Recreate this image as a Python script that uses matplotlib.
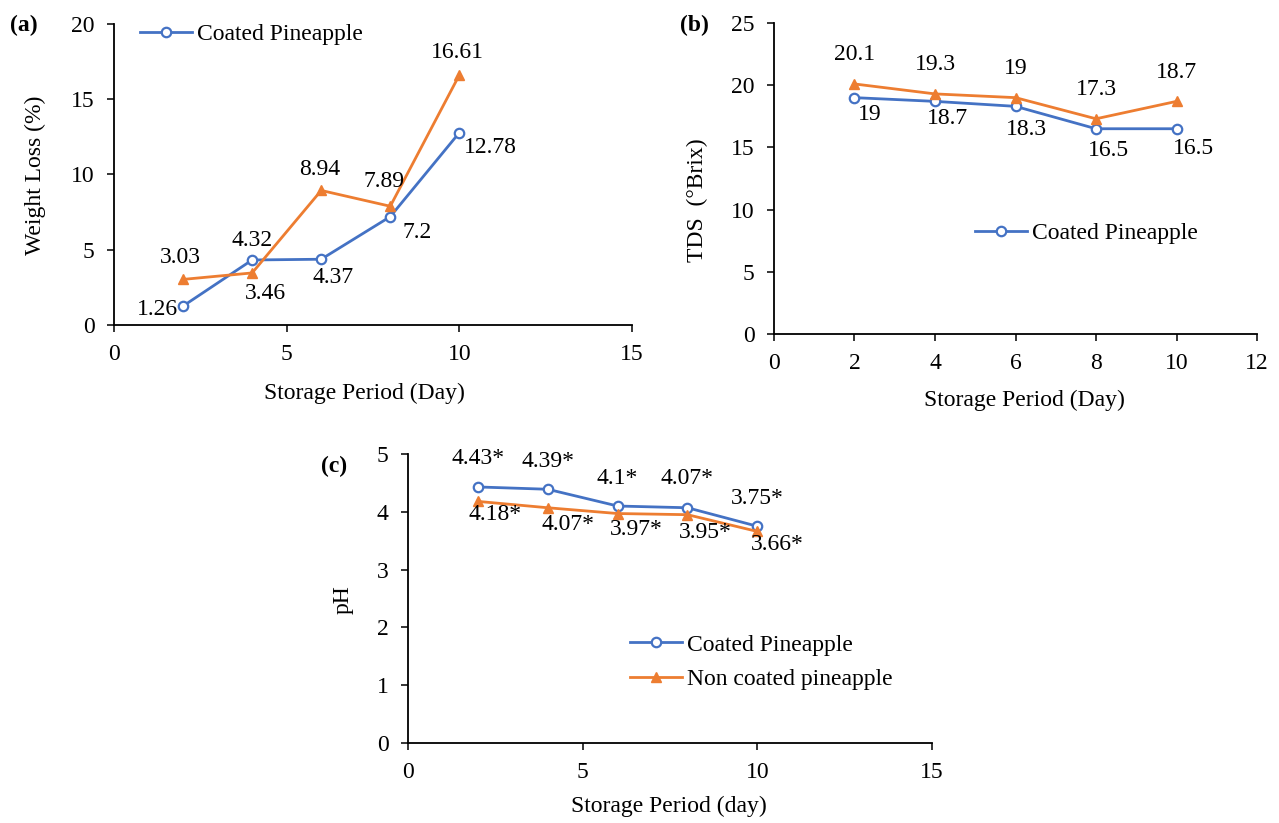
import matplotlib
matplotlib.use("Agg")
import matplotlib.pyplot as plt

plt.rcParams['font.family'] = ['Liberation Serif', 'DejaVu Serif']

# ---------------- data ----------------
days = [2, 4, 6, 8, 10]

wl_coated = [1.26, 4.32, 4.37, 7.2, 12.78]
wl_non = [3.03, 3.46, 8.94, 7.89, 16.61]

tds_coated = [19, 18.7, 18.3, 16.5, 16.5]
tds_non = [20.1, 19.3, 19, 17.3, 18.7]

ph_coated = [4.43, 4.39, 4.1, 4.07, 3.75]
ph_non = [4.18, 4.07, 3.97, 3.95, 3.66]

ph_coated_labels = ["4.43*", "4.39*", "4.1*", "4.07*", "3.75*"]
ph_non_labels = ["4.18*", "4.07*", "3.97*", "3.95*", "3.66*"]

label_coated = "Coated Pineapple"
label_non = "Non coated pineapple"

# --------------- styles ---------------
BLUE = "#4472C4"
ORANGE = "#ED7D31"
FS = 17

W, H = 1279, 823
fig = plt.figure(figsize=(W / 100, H / 100), dpi=100)


def px_axes(x0, y0, x1, y1):
    return fig.add_axes([x0 / W, 1 - y1 / H, (x1 - x0) / W, (y1 - y0) / H])


def style(ax):
    for s in ['top', 'right']:
        ax.spines[s].set_visible(False)
    for s in ['left', 'bottom']:
        ax.spines[s].set_linewidth(1.3)
        ax.spines[s].set_color('black')
    ax.tick_params(direction='out', length=5, width=1.1, labelsize=FS, color='black')
    ax.tick_params(axis='y', pad=9)
    ax.tick_params(axis='x', pad=8.5)


def plot_pair(ax, yc, yn):
    lc, = ax.plot(days, yc, color=BLUE, lw=2.0, marker='o', ms=6.8,
                  mfc='white', mec=BLUE, mew=1.6, clip_on=False, zorder=3)
    ln, = ax.plot(days, yn, color=ORANGE, lw=2.0, marker='^', ms=7.8,
                  mfc=ORANGE, mec=ORANGE, clip_on=False, zorder=3)
    return lc, ln


def labels(ax, xs, ys, texts, offs):
    for x, y, t, (dx, dy) in zip(xs, ys, texts, offs):
        ax.annotate(t, (x, y), xytext=(dx, dy), textcoords='offset pixels',
                    ha='center', va='center', fontsize=FS)


def fmt(v):
    return f"{v:g}"


# ---------------- (a) ----------------
axa = px_axes(114, 24, 632, 325)
style(axa)
lc, ln = plot_pair(axa, wl_coated, wl_non)
axa.set_xlim(0, 15)
axa.set_ylim(0, 20)
axa.set_xticks([0, 5, 10, 15])
axa.set_yticks([0, 5, 10, 15, 20])
labels(axa, days, wl_coated, [fmt(v) for v in wl_coated],
       [(-26, -3), (0, 19), (12, -18), (27, -16), (31, -15)])
labels(axa, days, wl_non, [fmt(v) for v in wl_non],
       [(-3, 22), (13, -21), (-2, 21), (-6, 25), (-2, 23)])
axa.set_xlabel("Storage Period (Day)", fontsize=FS, va='center')
axa.xaxis.set_label_coords(0.484, -0.226)
axa.set_ylabel("Weight Loss (%)", fontsize=FS, va='center')
axa.yaxis.set_label_coords(-0.1525, 0.498)
axa.legend([lc], [label_coated], loc='center left', frameon=False,
           fontsize=FS, borderpad=0, borderaxespad=0, handlelength=2.2,
           handletextpad=0.2,
           bbox_to_anchor=(140 / W, 1 - 34 / H), bbox_transform=fig.transFigure)

# ---------------- (b) ----------------
axb = px_axes(774, 23, 1257, 334)
style(axb)
lc, ln = plot_pair(axb, tds_coated, tds_non)
axb.set_xlim(0, 12)
axb.set_ylim(0, 25)
axb.set_xticks([0, 2, 4, 6, 8, 10, 12])
axb.set_yticks([0, 5, 10, 15, 20, 25])
labels(axb, days, tds_coated, [fmt(v) for v in tds_coated],
       [(15, -17), (12, -17), (11, -23), (12, -22), (17, -20)])
labels(axb, days, tds_non, [fmt(v) for v in tds_non],
       [(0, 29), (0, 29), (0, 29), (0, 29), (0, 29)])
axb.set_xlabel("Storage Period (Day)", fontsize=FS, va='center')
axb.xaxis.set_label_coords(0.519, -0.212)
axb.set_ylabel("TDS  (°Brix)", fontsize=FS, va='center')
axb.yaxis.set_label_coords(-0.159, 0.431)
axb.legend([lc], [label_coated], loc='center left', frameon=False,
           fontsize=FS, borderpad=0, borderaxespad=0, handlelength=2.2,
           handletextpad=0.2,
           bbox_to_anchor=(975 / W, 1 - 233 / H), bbox_transform=fig.transFigure)

# ---------------- (c) ----------------
axc = px_axes(408, 454, 932, 743)
style(axc)
lc, ln = plot_pair(axc, ph_coated, ph_non)
axc.set_xlim(0, 15)
axc.set_ylim(0, 5)
axc.set_xticks([0, 5, 10, 15])
axc.set_yticks([0, 1, 2, 3, 4, 5])
labels(axc, days, ph_coated, ph_coated_labels,
       [(0, 28), (0, 28), (0, 28), (0, 29), (0, 28)])
labels(axc, days, ph_non, ph_non_labels,
       [(17, -13), (20, -17), (19, -16), (18, -18), (20, -13)])
axc.set_xlabel("Storage Period (day)", fontsize=FS, va='center')
axc.xaxis.set_label_coords(0.498, -0.218)
axc.set_ylabel("pH", fontsize=FS, va='center')
axc.yaxis.set_label_coords(-0.124, 0.495)
axc.legend([lc, ln], [label_coated, label_non], loc='center left', frameon=False,
           fontsize=FS, borderpad=0, borderaxespad=0, handlelength=2.2,
           handletextpad=0.2, labelspacing=0.55,
           bbox_to_anchor=(630 / W, 1 - 662 / H), bbox_transform=fig.transFigure)

# panel tags
fig.text(24 / W, 1 - 25 / H, "(a)", fontsize=FS, fontweight='bold', ha='center', va='center')
fig.text(694 / W, 1 - 25 / H, "(b)", fontsize=FS, fontweight='bold', ha='center', va='center')
fig.text(334 / W, 1 - 466 / H, "(c)", fontsize=FS, fontweight='bold', ha='center', va='center')

fig.savefig("out.png", dpi=100)
